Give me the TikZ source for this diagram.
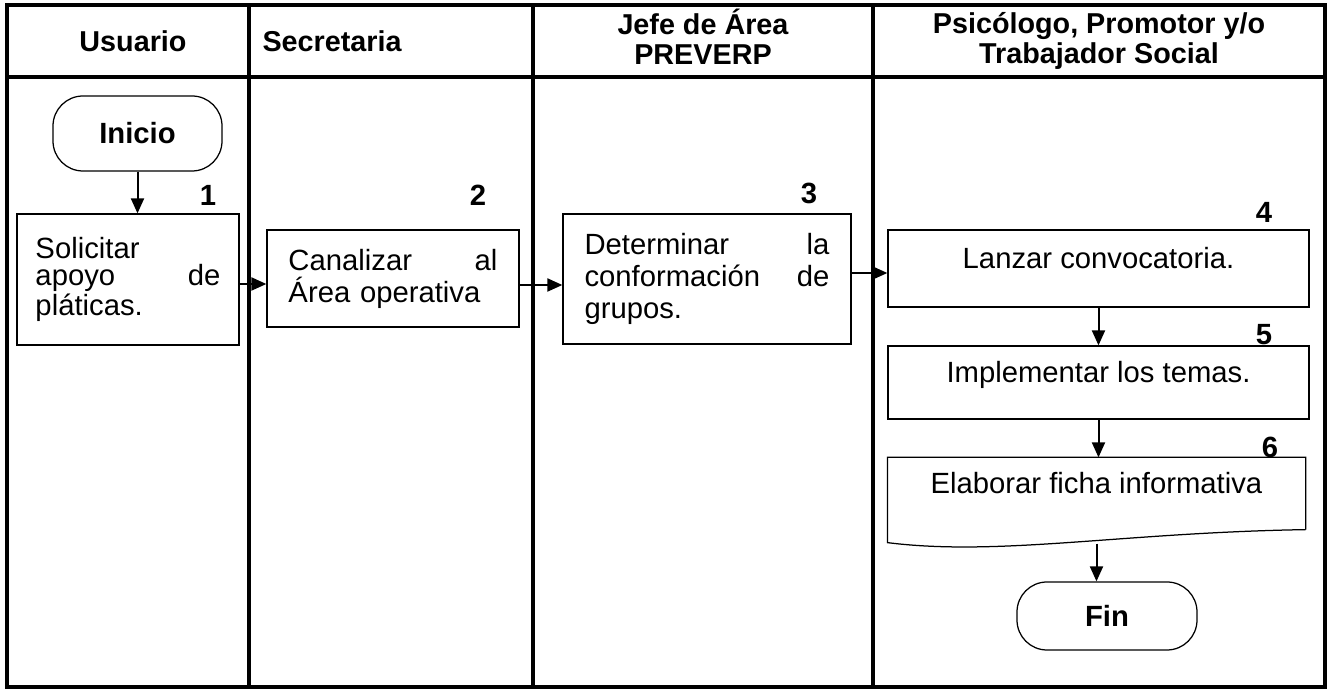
\documentclass[tikz,border=0pt]{standalone}
\usepackage{fontspec}
\setmainfont{Liberation Sans}
\usetikzlibrary{arrows.meta}

\tikzset{
    carril/.style={line width=1.5pt},
    caja/.style={draw, line width=0.5pt, inner ysep=0pt, align=left},
    cajauna/.style={caja, align=center, text height=8pt, text depth=8pt},
    terminal/.style={draw, line width=0.5pt, rounded corners=12pt, font=\fontsize{11.7}{12.8}\selectfont\bfseries, inner sep=0pt},
    encabezado/.style={font=\fontsize{11.5}{12}\selectfont\bfseries, align=center, inner sep=0pt},
    numero/.style={font=\fontsize{11.7}{12.8}\selectfont\bfseries, inner sep=0pt},
    flecha/.style={line width=0.8pt, -{Triangle[length=6pt,width=5.2pt]}}
}

\begin{document}
\begin{tikzpicture}[x=0.4pt, y=-0.4pt, font=\fontsize{11.7}{12.8}\selectfont]
            \useasboundingbox (0,0) rectangle (1329,691);

            % Draw the lanes
            \draw[carril] (7,5) rectangle (1325,687);
            \draw[carril] (7,77) -- (1325,77);
            \foreach \x in {249,533,873}
                \draw[carril] (\x,5) -- (\x,687);

            % Lane titles
            \node[encabezado] (usuario) at (133,41) {Usuario};
            \node[encabezado, anchor=west] (secretaria) at (262,41) {Secretaria};
            \node[encabezado] (jefe) at (703,37) {Jefe de Área\\PREVERP};
            \node[encabezado] (psicologo) at (1099,41) {Psicólogo, Promotor y/o\\Trabajador Social};

            % Draw the steps
            \node[terminal, minimum width=67.6pt, minimum height=30pt] (inicio) at (137.5,133.5) {Inicio};
            \node[caja, text width=74pt, inner xsep=7.4pt, minimum height=52.4pt,
                  font=\fontsize{11.7}{10.8}\selectfont] (sol) at (128,279.5) {Solicitar\\ apoyo\hfill de\\ pláticas.};
            \node[caja, text width=83.6pt, inner xsep=8.6pt, minimum height=38.8pt] (canal) at (393,278.5) {Canalizar\hfill al\\ Área operativa};
            \node[caja, text width=98pt, inner xsep=8.6pt, minimum height=52pt] (det) at (707,279) {Determinar\hfill la\\ conformación\hfill de\\ grupos.};
            \node[cajauna, minimum width=168.4pt, minimum height=30.8pt] (lanzar) at (1098.5,268.5) {Lanzar convocatoria.};
            \node[cajauna, minimum width=168.4pt, minimum height=29.2pt] (implem) at (1098.5,382.5) {Implementar los temas.};
            \node[cajauna, draw=none, minimum width=166.8pt, minimum height=28.4pt] (ficha) at (1096.5,493.5) {Elaborar ficha informativa};
            \draw[line width=0.5pt] (ficha.south east) -- (ficha.north east) -- (ficha.north west)
                -- ([yshift=-5.2pt]ficha.south west) .. controls +(112,14) and +(-185,3) .. (ficha.south east);
            \node[terminal, minimum width=72pt, minimum height=27.2pt] (fin) at (1107,616) {Fin};

            % Step numbers
            \node[numero] (n1) at (208,195) {1};
            \node[numero] (n2) at (478,195) {2};
            \node[numero] (n3) at (809,193) {3};
            \node[numero] (n4) at (1264,212) {4};
            \node[numero] (n5) at (1264,335) {5};
            \node[numero] (n6) at (1270,447) {6};

            % Draw the arrows
            \draw[flecha] (inicio.south) -- (inicio.south |- sol.north);
            \draw[flecha] (sol.east |- 0,284) -- (canal.west |- 0,284);
            \draw[flecha] (canal.east |- 0,285) -- (det.west |- 0,285);
            \draw[flecha] (det.east |- 0,273) -- (lanzar.west |- 0,273);
            \draw[flecha] (lanzar.south) -- (implem.north);
            \draw[flecha] (implem.south) -- (implem.south |- ficha.north);
            \draw[flecha] ([yshift=-5.6pt]ficha.south) -- (ficha.south |- fin.north);

        \end{tikzpicture}
\end{document}
